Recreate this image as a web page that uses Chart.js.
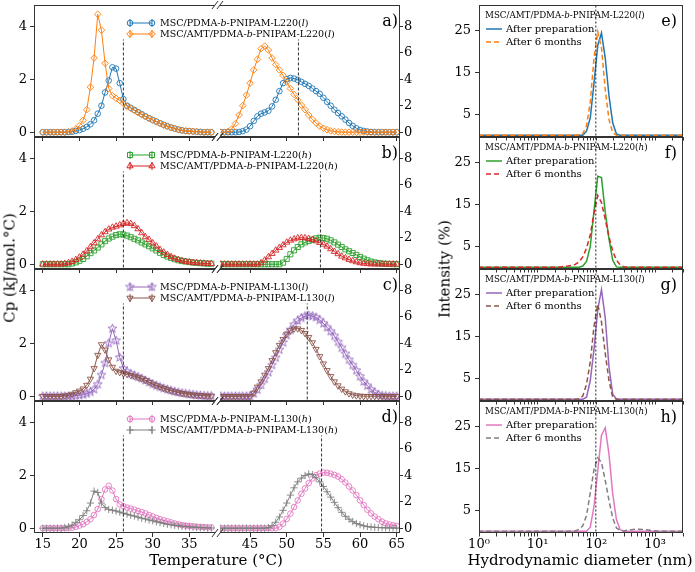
<!DOCTYPE html>
<html>
<head>
<meta charset="utf-8">
<title>DSC and DLS</title>
<script src="https://cdn.jsdelivr.net/npm/chart.js@4.4.1/dist/chart.umd.min.js"></script>
<style>
  html, body { margin: 0; background: #fff; }
  #fig { position: relative; width: 695px; height: 572px; overflow: hidden; font-family: "DejaVu Serif", serif; }
  #fig canvas { position: absolute; }
  .txt { position: absolute; white-space: nowrap; line-height: 1; color: #000; }
</style>
</head>
<body>
<div id="fig"></div>
<script>
// temperature grid of the two halves of the broken axis (°C)
const tempLow = [15, 15.5, 16, 16.5, 17, 17.5, 18, 18.5, 19, 19.5, 20, 20.5, 21, 21.5, 22, 22.5, 23, 23.5,
  24, 24.5, 25, 25.5, 26, 26.5, 27, 27.5, 28, 28.5, 29, 29.5, 30, 30.5, 31, 31.5, 32, 32.5, 33, 33.5,
  34, 34.5, 35, 35.5, 36, 36.5, 37, 37.5, 38]
const tempHigh = [41, 41.5, 42, 42.5, 43, 43.5, 44, 44.5, 45, 45.5, 46, 46.5, 47, 47.5, 48, 48.5, 49, 49.5,
  50, 50.5, 51, 51.5, 52, 52.5, 53, 53.5, 54, 54.5, 55, 55.5, 56, 56.5, 57, 57.5, 58, 58.5, 59, 59.5,
  60, 60.5, 61, 61.5, 62, 62.5, 63, 63.5, 64, 64.5, 65]

// Cp, low half read on the left axis, high half on the right axis
const cpA1Low = [0, 0, 0, 0, 0, 0, 0, 0.01, 0.02, 0.05, 0.08, 0.13, 0.2, 0.3, 0.45, 0.7, 1.0, 1.5,
  1.95, 2.45, 2.4, 1.85, 1.25, 1.0, 0.92, 0.84, 0.76, 0.68, 0.6, 0.53, 0.46, 0.4, 0.34, 0.28, 0.23, 0.18,
  0.14, 0.1, 0.07, 0.05, 0.04, 0.03, 0.02, 0.01, 0, 0, 0]
const cpA2Low = [0, 0, 0, 0, 0, 0, 0, 0.02, 0.05, 0.12, 0.25, 0.45, 0.85, 1.7, 2.8, 4.45, 3.85, 2.6,
  1.65, 1.38, 1.28, 1.2, 1.08, 0.98, 0.9, 0.82, 0.74, 0.66, 0.59, 0.52, 0.46, 0.4, 0.33, 0.27, 0.22, 0.17,
  0.13, 0.1, 0.07, 0.05, 0.04, 0.03, 0.02, 0.01, 0, 0, 0]
const cpA1High = [0, 0, 0, 0, 0, 0.02, 0.08, 0.2, 0.45, 0.85, 1.2, 1.4, 1.5, 1.62, 1.95, 2.45, 3.1, 3.7,
  4.0, 4.1, 4.05, 3.95, 3.8, 3.65, 3.5, 3.3, 3.1, 2.9, 2.6, 2.3, 2.0, 1.7, 1.45, 1.2, 0.95, 0.7, 0.48, 0.3,
  0.17, 0.1, 0.05, 0.02, 0, 0, 0, 0, 0, 0, 0]
const cpA2High = [0, 0, 0.05, 0.25, 0.65, 1.3, 2.0, 2.8, 3.7, 4.7, 5.5, 6.3, 6.5, 6.2, 5.6, 5.1, 4.7, 4.3,
  3.8, 3.3, 2.85, 2.45, 2.05, 1.7, 1.3, 0.98, 0.7, 0.45, 0.3, 0.19, 0.1, 0.06, 0.03, 0.01, 0, 0, 0, 0,
  0, 0, 0, 0, 0, 0, 0, 0, 0, 0, 0]

const cpB1Low = [0, 0, 0, 0, 0, 0, 0, 0, 0.03, 0.07, 0.13, 0.2, 0.3, 0.42, 0.52, 0.63, 0.75, 0.87,
  0.97, 1.04, 1.1, 1.13, 1.12, 1.08, 1.02, 0.96, 0.9, 0.82, 0.75, 0.68, 0.6, 0.52, 0.43, 0.35, 0.29, 0.24,
  0.19, 0.15, 0.12, 0.1, 0.08, 0.06, 0.05, 0.04, 0.03, 0.02, 0.02]
const cpB2Low = [0, 0, 0, 0, 0, 0, 0.02, 0.05, 0.1, 0.17, 0.26, 0.37, 0.5, 0.65, 0.8, 0.95, 1.1, 1.22,
  1.32, 1.39, 1.43, 1.48, 1.53, 1.56, 1.53, 1.45, 1.33, 1.18, 1.03, 0.93, 0.8, 0.68, 0.55, 0.45, 0.36, 0.28,
  0.22, 0.17, 0.13, 0.1, 0.08, 0.06, 0.05, 0.04, 0.03, 0.02, 0.02]
const cpB1High = [0, 0, 0, 0, 0, 0, 0, 0, 0, 0, 0, 0, 0, 0, 0, 0, 0, 0.12,
  0.4, 0.75, 1.05, 1.3, 1.5, 1.65, 1.75, 1.85, 1.95, 2.0, 1.98, 1.92, 1.8, 1.65, 1.48, 1.3, 1.12, 0.98, 0.85, 0.7,
  0.55, 0.42, 0.3, 0.2, 0.14, 0.09, 0.05, 0.03, 0.02, 0.01, 0]
const cpB2High = [0, 0, 0, 0, 0, 0, 0, 0, 0, 0, 0, 0.1, 0.3, 0.55, 0.8, 1.05, 1.25, 1.45,
  1.65, 1.8, 1.9, 1.97, 2.0, 1.98, 1.93, 1.85, 1.75, 1.63, 1.5, 1.35, 1.15, 0.95, 0.78, 0.6, 0.47, 0.35, 0.25, 0.17,
  0.1, 0.06, 0.03, 0.01, 0, 0, 0, 0, 0, 0, 0]

const cpC1Low = [0, 0, 0, 0, 0, 0, 0, 0, 0, 0.02, 0.04, 0.06, 0.1, 0.16, 0.26, 0.45, 0.8, 1.25,
  2.0, 2.55, 2.1, 1.46, 1.05, 0.92, 0.85, 0.79, 0.73, 0.67, 0.6, 0.53, 0.46, 0.4, 0.35, 0.3, 0.26, 0.22,
  0.18, 0.15, 0.12, 0.1, 0.08, 0.06, 0.04, 0.03, 0.02, 0.01, 0.01]
const cpC2Low = [0, 0, 0, 0, 0, 0, 0.02, 0.04, 0.08, 0.14, 0.2, 0.28, 0.42, 0.65, 1.05, 1.55, 1.95, 1.75,
  1.38, 1.1, 0.95, 0.9, 0.86, 0.83, 0.79, 0.75, 0.71, 0.66, 0.6, 0.53, 0.46, 0.4, 0.35, 0.3, 0.25, 0.21,
  0.17, 0.14, 0.11, 0.09, 0.07, 0.05, 0.04, 0.03, 0.02, 0.01, 0.01]
const cpC1High = [0, 0, 0, 0, 0, 0, 0, 0, 0, 0.2, 0.5, 0.85, 1.3, 1.8, 2.35, 2.9, 3.5, 4.05,
  4.6, 5.0, 5.4, 5.7, 5.9, 6.05, 6.1, 6.05, 5.95, 5.75, 5.5, 5.2, 4.9, 4.55, 4.1, 3.65, 3.2, 2.75, 2.35, 1.95,
  1.5, 1.1, 0.8, 0.5, 0.28, 0.12, 0.05, 0.02, 0, 0, 0]
const cpC2High = [0, 0, 0, 0, 0, 0, 0, 0, 0, 0.25, 0.7, 1.1, 1.6, 2.1, 2.7, 3.3, 3.85, 4.3,
  4.7, 4.95, 5.08, 5.1, 4.98, 4.75, 4.45, 4.05, 3.55, 3.0, 2.45, 1.95, 1.5, 1.1, 0.8, 0.55, 0.35, 0.2, 0.1, 0.05,
  0.02, 0, 0, 0, 0, 0, 0, 0, 0, 0, 0]

const cpD1Low = [0, 0, 0, 0, 0, 0, 0, 0, 0.02, 0.05, 0.1, 0.15, 0.24, 0.34, 0.5, 0.72, 1.1, 1.46,
  1.6, 1.42, 1.1, 0.9, 0.83, 0.78, 0.74, 0.7, 0.65, 0.61, 0.56, 0.5, 0.44, 0.39, 0.34, 0.3, 0.26, 0.22,
  0.18, 0.15, 0.12, 0.1, 0.09, 0.07, 0.06, 0.05, 0.04, 0.03, 0.03]
const cpD2Low = [0, 0, 0, 0, 0, 0, 0.03, 0.06, 0.12, 0.22, 0.32, 0.48, 0.66, 0.95, 1.4, 1.35, 0.95, 0.78,
  0.71, 0.68, 0.65, 0.61, 0.57, 0.53, 0.49, 0.46, 0.42, 0.38, 0.35, 0.31, 0.28, 0.24, 0.21, 0.18, 0.15, 0.13,
  0.11, 0.09, 0.07, 0.06, 0.05, 0.04, 0.03, 0.02, 0.02, 0.01, 0.01]
const cpD1High = [0, 0, 0, 0, 0, 0, 0, 0, 0, 0, 0, 0, 0, 0, 0, 0, 0.1, 0.35,
  0.7, 1.1, 1.6, 2.1, 2.6, 3.0, 3.4, 3.75, 4.0, 4.12, 4.2, 4.18, 4.12, 4.02, 3.9, 3.7, 3.45, 3.15, 2.85, 2.5,
  2.1, 1.75, 1.4, 1.12, 0.88, 0.68, 0.5, 0.37, 0.28, 0.22, 0.18]
const cpD2High = [0, 0, 0, 0, 0, 0, 0, 0, 0, 0, 0, 0, 0, 0.05, 0.2, 0.45, 0.85, 1.35,
  1.9, 2.5, 3.05, 3.5, 3.78, 3.98, 4.1, 4.05, 3.8, 3.5, 3.15, 2.75, 2.35, 1.95, 1.55, 1.2, 0.9, 0.68, 0.5, 0.36,
  0.26, 0.18, 0.12, 0.09, 0.07, 0.05, 0.04, 0.03, 0.02, 0.02, 0.01]

// dashed transition markers (°C)
const cpMarkLow = [26, 26, 26, 26]
const cpMarkHigh = [51.6, 54.6, 52.8, 54.75]

const cpLabels = [
  ["MSC/PDMA-<i>b</i>-PNIPAM-L220(<i>l</i>)", "MSC/AMT/PDMA-<i>b</i>-PNIPAM-L220(<i>l</i>)"],
  ["MSC/PDMA-<i>b</i>-PNIPAM-L220(<i>h</i>)", "MSC/AMT/PDMA-<i>b</i>-PNIPAM-L220(<i>h</i>)"],
  ["MSC/PDMA-<i>b</i>-PNIPAM-L130(<i>l</i>)", "MSC/AMT/PDMA-<i>b</i>-PNIPAM-L130(<i>l</i>)"],
  ["MSC/PDMA-<i>b</i>-PNIPAM-L130(<i>h</i>)", "MSC/AMT/PDMA-<i>b</i>-PNIPAM-L130(<i>h</i>)"]
]
const cpTags = ["a)", "b)", "c)", "d)"]
const lowXTicks = [15, 20, 25, 30, 35]
const highXTicks = [45, 50, 55, 60, 65]
const lowYTicks = [0, 2, 4]
const highYTicks = [0, 2, 4, 6, 8]

// DLS size bins (nm) and intensity (%)
const dlsSizes = [0.9649, 1.117, 1.294, 1.499, 1.736, 2.010, 2.328, 2.696, 3.122, 3.615, 4.187, 4.849,
  5.615, 6.503, 7.531, 8.721, 10.10, 11.70, 13.54, 15.69, 18.17, 21.04, 24.36, 28.21, 32.67, 37.84,
  43.82, 50.75, 58.77, 68.06, 78.82, 91.28, 105.7, 122.4, 141.8, 164.2, 190.1, 220.2, 255.0, 295.3,
  342.0, 396.1, 458.7, 531.2, 615.1, 712.4, 825.0, 955.4, 1106, 1281, 1484, 1718, 1990, 2305, 2669, 3091]
const dlsE1 = [0, 0, 0, 0, 0, 0, 0, 0, 0, 0, 0, 0, 0, 0, 0, 0, 0, 0, 0, 0, 0, 0, 0, 0, 0, 0, 0, 0, 0,
  1.0, 4.2, 12.5, 21.5, 24.5, 18.5, 9.5, 3.0, 0.3, 0, 0, 0, 0, 0, 0, 0, 0, 0, 0, 0, 0, 0, 0, 0, 0, 0, 0]
const dlsE2 = [0, 0, 0, 0, 0, 0, 0, 0, 0, 0, 0, 0, 0, 0, 0, 0, 0, 0, 0, 0, 0, 0, 0, 0, 0, 0, 0,
  0.1, 0.4, 2.3, 8, 18.5, 24.8, 21, 11, 3.8, 0.6, 0, 0, 0, 0, 0, 0, 0, 0, 0, 0, 0, 0, 0, 0, 0, 0, 0, 0, 0]
const dlsF1 = [0, 0, 0, 0, 0, 0, 0, 0, 0, 0, 0, 0, 0, 0, 0, 0, 0, 0, 0, 0, 0, 0, 0, 0, 0, 0, 0, 0,
  0.3, 1.4, 5, 13.5, 21.8, 21.5, 13.2, 6.8, 1.7, 0.1, 0, 0, 0, 0, 0, 0, 0, 0, 0, 0, 0, 0, 0, 0, 0, 0, 0, 0]
const dlsF2 = [0, 0, 0, 0, 0, 0, 0, 0, 0, 0, 0, 0, 0, 0, 0, 0, 0, 0, 0, 0, 0, 0,
  0.1, 0.2, 0.3, 0.45, 0.7, 1.3, 2.5, 4.6, 7.8, 13, 17.2, 15.5, 11.5, 7.3, 3.9, 1.7, 0.6, 0.15,
  0, 0, 0, 0, 0, 0, 0, 0, 0, 0, 0, 0, 0, 0, 0, 0]
const dlsG1 = [0, 0, 0, 0, 0, 0, 0, 0, 0, 0, 0, 0, 0, 0, 0, 0, 0, 0, 0, 0, 0, 0, 0, 0, 0, 0, 0, 0, 0,
  0.5, 4.5, 12, 21.5, 26.3, 19.5, 7.8, 1.2, 0.1, 0, 0, 0, 0, 0, 0, 0, 0, 0, 0, 0, 0, 0, 0, 0, 0, 0, 0]
const dlsG2 = [0, 0, 0, 0, 0, 0, 0, 0, 0, 0, 0, 0, 0, 0, 0, 0, 0, 0, 0, 0, 0, 0, 0, 0, 0, 0, 0,
  0.1, 0.8, 3.6, 9, 17.5, 22.8, 18.5, 11, 4.5, 0.5, 0, 0, 0, 0, 0, 0, 0, 0, 0, 0, 0, 0, 0, 0, 0, 0, 0, 0, 0]
const dlsH1 = [0, 0, 0, 0, 0, 0, 0, 0, 0, 0, 0, 0, 0, 0, 0, 0, 0, 0, 0, 0, 0, 0, 0, 0, 0, 0, 0, 0, 0, 0,
  1.0, 6, 14.5, 23, 24.8, 18.5, 9, 2.8, 0.4, 0, 0, 0, 0, 0, 0, 0, 0, 0, 0, 0, 0, 0, 0, 0, 0, 0]
const dlsH2 = [0, 0, 0, 0, 0, 0, 0, 0, 0, 0, 0, 0, 0, 0, 0, 0, 0, 0, 0, 0, 0, 0, 0, 0, 0, 0,
  0.1, 0.5, 1.3, 3.8, 9.2, 14.8, 17.6, 16.5, 12.2, 7.4, 3.2, 0.8, 0.2, 0.1, 0.3, 0.4, 0.5, 0.5, 0.45,
  0.35, 0.25, 0.15, 0.05, 0, 0, 0, 0, 0, 0, 0]
const dlsMark = 98
const dlsTitles = [
  "MSC/AMT/PDMA-<i>b</i>-PNIPAM-L220(<i>l</i>)",
  "MSC/AMT/PDMA-<i>b</i>-PNIPAM-L220(<i>h</i>)",
  "MSC/AMT/PDMA-<i>b</i>-PNIPAM-L130(<i>l</i>)",
  "MSC/AMT/PDMA-<i>b</i>-PNIPAM-L130(<i>h</i>)"
]
const dlsLegend = ["After preparation", "After 6 months"]
const dlsTags = ["e)", "f)", "g)", "h)"]
const dlsYTicks = [5, 15, 25]
const dlsXTicks = [1, 2, 3, 4, 5, 6, 7, 8, 9, 10, 20, 30, 40, 50, 60, 70, 80, 90,
  100, 200, 300, 400, 500, 600, 700, 800, 900, 1000, 2000, 3000]

const cpSeries = [
  [[cpA1Low, cpA1High], [cpA2Low, cpA2High]],
  [[cpB1Low, cpB1High], [cpB2Low, cpB2High]],
  [[cpC1Low, cpC1High], [cpC2Low, cpC2High]],
  [[cpD1Low, cpD1High], [cpD2Low, cpD2High]]
]
const dlsSeries = [[dlsE1, dlsE2], [dlsF1, dlsF2], [dlsG1, dlsG2], [dlsH1, dlsH2]]

const palette = [["#1f77b4", "#ff7f0e"], ["#2ca02c", "#d62728"], ["#9467bd", "#8c564b"], ["#e377c2", "#7f7f7f"]]
const markers = [
  [{ style: "circle", r: 2.8 }, { style: "rectRot", r: 3.3 }],
  [{ style: "rect", r: 3.6 }, { style: "triangle", r: 3.6 }],
  [{ style: "star", r: 4 }, { style: "triangle", r: 3.6, rot: 180 }],
  [{ style: "circle", r: 2.8 }, { style: "cross", r: 3.6 }]
]

// geometry (px)
const AXIS = "#333"
const ROW_TOP = 5, ROW_H = 132, PAD = 6
const LOW_L = 34, LOW_R = 215, HIGH_L = 220, HIGH_R = 400
const DLS_L = 479, DLS_R = 683, DLS_YW = 35

Chart.defaults.font.family = "'DejaVu Serif', serif"
Chart.defaults.font.size = 13
Chart.defaults.color = "#000"

const fig = document.getElementById("fig")

function makeCanvas(left, top, w, h) {
  const c = document.createElement("canvas")
  c.width = w
  c.height = h
  c.style.left = left + "px"
  c.style.top = top + "px"
  c.style.width = w + "px"
  c.style.height = h + "px"
  fig.appendChild(c)
  return c
}

function addText(html, x, y, size, anchor, rotate) {
  const d = document.createElement("div")
  d.className = "txt"
  d.innerHTML = html
  d.style.left = x + "px"
  d.style.top = y + "px"
  d.style.fontSize = size + "px"
  const tx = anchor === "left" ? "0" : anchor === "right" ? "-100%" : "-50%"
  d.style.transform = `translate(${tx}, -50%)` + (rotate ? ` rotate(${rotate}deg)` : "")
  fig.appendChild(d)
}

function starImage(color) {
  const c = document.createElement("canvas")
  c.width = c.height = 11
  const g = c.getContext("2d")
  g.strokeStyle = color
  g.lineWidth = 0.9
  g.beginPath()
  for (let k = 0; k < 10; k++) {
    const r = k % 2 ? 1.9 : 4.6
    const a = -Math.PI / 2 + (k * Math.PI) / 5
    const px = 5.5 + r * Math.cos(a), py = 5.5 + r * Math.sin(a)
    k ? g.lineTo(px, py) : g.moveTo(px, py)
  }
  g.closePath()
  g.stroke()
  return c
}

function pointStyleOf(m, color) {
  return m.style === "star" ? starImage(color) : m.style
}

function fixTicks(values) {
  return (scale) => { scale.ticks = values.map((v) => ({ value: v })) }
}

const framePlugin = {
  id: "frame",
  afterDatasetsDraw(chart, args, opts) {
    const { ctx, chartArea: a } = chart
    const s = opts.sides || ""
    const T = Math.round(a.top) + 0.5, B = Math.round(a.bottom) - 0.5
    const L = Math.round(a.left) + 0.5, R = Math.round(a.right) - 0.5
    ctx.save()
    ctx.strokeStyle = AXIS
    ctx.lineWidth = 1
    ctx.beginPath()
    if (s.includes("t")) { ctx.moveTo(a.left, T); ctx.lineTo(a.right, T) }
    if (s.includes("b")) { ctx.moveTo(a.left, B); ctx.lineTo(a.right, B) }
    if (s.includes("l")) { ctx.moveTo(L, a.top); ctx.lineTo(L, a.bottom) }
    if (s.includes("r")) { ctx.moveTo(R, a.top); ctx.lineTo(R, a.bottom) }
    if (opts.brk) {
      const x = opts.brk === "right" ? a.right : a.left
      for (const y of [a.top, a.bottom]) { ctx.moveTo(x - 3, y + 4); ctx.lineTo(x + 3, y - 4) }
    }
    ctx.stroke()
    ctx.restore()
  }
}

// legend samples: line with a marker at each end, text is html
const sampleLegend = {
  id: "sample",
  afterDraw(chart, args, opts) {
    if (!opts.items) return
    const { ctx, chartArea: a } = chart
    opts.items.forEach((it, k) => {
      const y = a.top + opts.y0 + opts.dy * k
      const x0 = a.left + opts.x0, x1 = a.left + opts.x1
      ctx.save()
      ctx.strokeStyle = it.color
      ctx.fillStyle = "rgba(0,0,0,0)"
      ctx.lineWidth = it.width || 1
      ctx.setLineDash(it.dash || [])
      ctx.beginPath()
      ctx.moveTo(x0, y)
      ctx.lineTo(x1, y)
      ctx.stroke()
      ctx.setLineDash([])
      if (it.marker) {
        for (const x of [x0, x1]) {
          ctx.beginPath()
          ctx.moveTo(x, y - 4)
          ctx.lineTo(x, y + 4)
          ctx.stroke()
          Chart.helpers.drawPoint(ctx, { pointStyle: it.marker, radius: it.r, rotation: it.rot || 0, borderWidth: 1 }, x, y)
        }
      }
      ctx.restore()
    })
  }
}

function cpChart(i, half) {
  const low = half === 0
  const last = i === 3
  const top = ROW_TOP + ROW_H * i
  const xH = last ? 28 : 5
  const yW = low ? LOW_L : 18
  const xs = low ? tempLow : tempHigh
  const left = low ? 0 : HIGH_L - PAD
  const width = low ? LOW_R + PAD : PAD + (HIGH_R - HIGH_L) + yW
  const canvas = makeCanvas(left, top - PAD, width, PAD + ROW_H + xH)
  const datasets = cpSeries[i].map((pair, k) => {
    const m = markers[i][k]
    const color = palette[i][k]
    return {
      data: xs.map((x, j) => ({ x, y: pair[half][j] })),
      borderColor: color,
      borderWidth: 1,
      pointStyle: pointStyleOf(m, color),
      pointRadius: m.r,
      pointRotation: m.rot || 0,
      pointBorderColor: color,
      pointBorderWidth: 0.9,
      pointBackgroundColor: "rgba(0,0,0,0)",
      order: 2 - k
    }
  })
  const mark = low ? cpMarkLow[i] : cpMarkHigh[i]
  datasets.push({
    data: [{ x: mark, y: low ? -0.5 : -1 }, { x: mark, y: low ? 3.5 : 7 }],
    borderColor: "#333", borderWidth: 1, borderDash: [3, 2], pointRadius: 0, order: 0
  })
  const items = low ? cpSeries[i].map((p, k) => ({
    color: palette[i][k],
    marker: pointStyleOf(markers[i][k], palette[i][k]),
    r: markers[i][k].r,
    rot: markers[i][k].rot
  })) : null
  new Chart(canvas, {
    type: "line",
    data: { datasets },
    options: {
      responsive: false,
      animation: false,
      events: [],
      layout: { padding: low ? { top: PAD, right: PAD, left: 0, bottom: 0 } : { top: PAD, left: PAD, right: 0, bottom: 0 } },
      plugins: {
        legend: { display: false },
        tooltip: { enabled: false },
        frame: { sides: low ? "tbl" : "tbr", brk: low ? "right" : "left" },
        sample: { items, x0: 96, x1: 118, y0: 18, dy: 11 }
      },
      scales: {
        x: {
          type: "linear",
          min: low ? 13.8 : 40.9,
          max: low ? 38.5 : 65.45,
          afterBuildTicks: fixTicks(low ? lowXTicks : highXTicks),
          afterFit: (s) => { s.height = xH; s.paddingLeft = 0; s.paddingRight = 0 },
          ticks: { display: last, padding: 0, maxRotation: 0, autoSkip: false },
          grid: { drawOnChartArea: false, drawTicks: true, tickLength: 4, color: AXIS },
          border: { display: false }
        },
        y: {
          type: "linear",
          position: low ? "left" : "right",
          min: low ? -0.18 : -0.36,
          max: low ? 4.8 : 9.6,
          afterBuildTicks: fixTicks(low ? lowYTicks : highYTicks),
          afterFit: (s) => { s.width = yW; s.paddingTop = 0; s.paddingBottom = 0 },
          ticks: { padding: low ? 3 : 1 },
          grid: { drawOnChartArea: false, drawTicks: true, tickLength: low ? 4 : 3, color: AXIS },
          border: { display: false }
        }
      }
    },
    plugins: [framePlugin, sampleLegend]
  })
}

const supers = { 1: "10⁰", 10: "10¹", 100: "10²", 1000: "10³" }

function dlsChart(i) {
  const last = i === 3
  const top = ROW_TOP + ROW_H * i
  const xH = last ? 28 : 5
  const canvas = makeCanvas(DLS_L - DLS_YW, top - PAD, DLS_YW + (DLS_R - DLS_L) + PAD, PAD + ROW_H + xH)
  const datasets = dlsSeries[i].map((arr, k) => ({
    data: dlsSizes.map((x, j) => ({ x, y: arr[j] })),
    borderColor: palette[i][k],
    borderWidth: 1.5,
    borderDash: k ? [5, 3] : [],
    pointRadius: 0,
    order: 2 - k
  }))
  datasets.push({
    data: [{ x: dlsMark, y: -1 }, { x: dlsMark, y: 40 }],
    borderColor: "#222", borderWidth: 1, borderDash: [2, 2], pointRadius: 0, order: 0
  })
  new Chart(canvas, {
    type: "line",
    data: { datasets },
    options: {
      responsive: false,
      animation: false,
      events: [],
      layout: { padding: { top: PAD, right: PAD, left: 0, bottom: 0 } },
      plugins: {
        legend: { display: false },
        tooltip: { enabled: false },
        frame: { sides: "tblr" },
        sample: {
          items: [{ color: palette[i][0], width: 1.5 }, { color: palette[i][1], width: 1.5, dash: [5, 3] }],
          x0: 7, x1: 23, y0: 24, dy: 13
        }
      },
      scales: {
        x: {
          type: "logarithmic",
          min: 1,
          max: 3000,
          afterBuildTicks: fixTicks(dlsXTicks),
          afterFit: (s) => { s.height = xH; s.paddingLeft = 0; s.paddingRight = 0 },
          ticks: { display: last, padding: 0, maxRotation: 0, autoSkip: false, callback: (v) => supers[v] || "" },
          grid: { drawOnChartArea: false, drawTicks: true, tickLength: 3.5, color: AXIS },
          border: { display: false }
        },
        y: {
          type: "linear",
          min: -0.4,
          max: 31.2,
          afterBuildTicks: fixTicks(dlsYTicks),
          afterFit: (s) => { s.width = DLS_YW; s.paddingTop = 0; s.paddingBottom = 0 },
          ticks: { padding: 4 },
          grid: { drawOnChartArea: false, drawTicks: true, tickLength: 4, color: AXIS },
          border: { display: false }
        }
      }
    },
    plugins: [framePlugin, sampleLegend]
  })
}

for (let i = 0; i < 4; i++) {
  cpChart(i, 0)
  cpChart(i, 1)
  dlsChart(i)
  const top = ROW_TOP + ROW_H * i
  cpLabels[i].forEach((lab, k) => addText(lab, 160, top + 18 + 11 * k, 9.5, "left"))
  addText(cpTags[i], 398, top + 16, 16, "right")
  addText(dlsTitles[i], 485, top + 10, 8.7, "left")
  dlsLegend.forEach((lab, k) => addText(lab, 506, top + 24 + 13 * k, 10, "left"))
  addText(dlsTags[i], 677, top + 16, 16, "right")
}

addText("Cp (kJ/mol.°C)", 10, 268, 15, "center", -90)
addText("Temperature (°C)", 216, 560, 15, "center")
addText("Intensity (%)", 445, 269, 15, "center", -90)
addText("Hydrodynamic diameter (nm)", 580, 560, 15, "center")
</script>
</body>
</html>
